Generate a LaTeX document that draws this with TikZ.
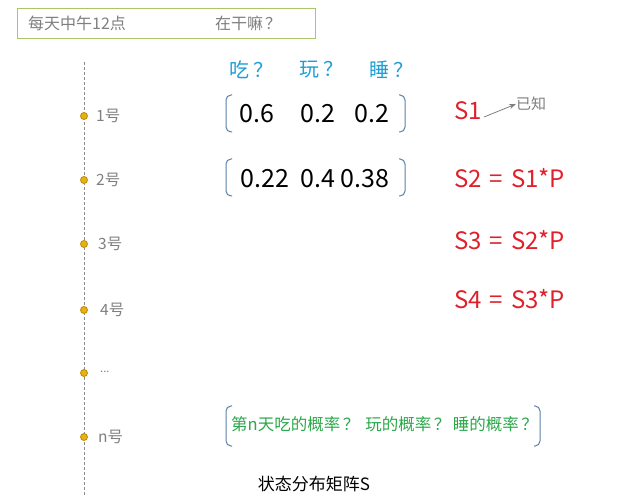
\documentclass[tikz,border=0pt]{standalone}
\usepackage{fontspec}
\setmainfont{Noto Sans CJK SC}
\usetikzlibrary{arrows.meta}
\definecolor{txtgray}{HTML}{7F7F7F}
\definecolor{qcyan}{HTML}{1E9FD6}
\definecolor{sred}{HTML}{E0202A}
\definecolor{pgreen}{HTML}{2BA84A}
\definecolor{brk}{HTML}{5B7FA6}
\definecolor{dotfill}{HTML}{E8B010}
\definecolor{dotline}{HTML}{C08A00}
\definecolor{boxgreen}{HTML}{A8C868}
\newcommand{\fs}[1]{\fontsize{#1}{#1}\selectfont}
\newcommand{\qm}{\hspace{2.5pt}？\hspace{2.5pt}}
\tikzset{
  daylabel/.style={anchor=west, inner sep=0pt, text=txtgray, font=\fs{15.5}},
  dayDot/.style={circle, fill=dotfill, draw=dotline, line width=0.8pt, minimum size=7pt, inner sep=0pt},
  qhead/.style={anchor=west, inner sep=0pt, text=qcyan, font=\fs{20}},
  num/.style={inner sep=0pt, text=black, font=\fs{25}},
  seq/.style={anchor=west, inner sep=0pt, text=sred, font=\fs{24}},
  paren/.style={draw=brk, line width=1pt, rounded corners=5pt},
}
\begin{document}
\begin{tikzpicture}[x=1pt,y=-1pt]
\useasboundingbox (0,0) rectangle (630,497);
% top box
\draw[boxgreen, line width=0.9pt] (17,8) rectangle (315,38);
\node[anchor=west, inner sep=0pt, text=txtgray, font=\fs{16}] (title) at (28,23) {每天中午12点};
\node[anchor=west, inner sep=0pt, text=txtgray, font=\fs{16}] (what) at (215,23) {在干嘛\hspace{2pt}？};
% timeline
\coordinate (ltop) at (84,62);
\coordinate (lbot) at (84,497);
\draw[txtgray!90, line width=1pt, dash pattern=on 3pt off 2pt] (ltop) -- (lbot);
\foreach \y/\n/\lx/\t in {116/d1/96/1号, 180/d2/96/2号, 244/d3/98/3号, 310/d4/100/4号, 437/dn/98/n号}{
  \node[dayDot] (\n) at (84,\y) {};
  \node[daylabel] (\n l) at (\lx,\y) {\t};
}
\node[dayDot] (d5) at (84,373) {};
\node[daylabel, font=\fs{11}] (d5l) at (100,372) {...};
% headers
\node[qhead] (eat) at (229,70) {吃\hspace{4pt}？};
\node[qhead] (play) at (299,70) {玩\hspace{4pt}？};
\node[qhead] (sleep) at (369,70) {睡\hspace{4pt}？};
% matrix row 1
\draw[paren] (232,95) -- (226,95) -- (226,132) -- (232,132);
\draw[paren] (399,95) -- (405,95) -- (405,132) -- (399,132);
\node[num] (a11) at (257,114) {0.6};
\node[num] (a12) at (318,114) {0.2};
\node[num] (a13) at (372,114) {0.2};
% matrix row 2
\draw[paren] (232,159) -- (226,159) -- (226,196) -- (232,196);
\draw[paren] (399,159) -- (405,159) -- (405,196) -- (399,196);
\node[num] (a21) at (265,179) {0.22};
\node[num] (a22) at (318,179) {0.4};
\node[num] (a23) at (365,179) {0.38};
% sequence
\node[seq] (s1) at (454,111) {S1};
\node[anchor=west, inner sep=0pt, text=txtgray, font=\fs{15}] (known) at (516,104) {已知};
\draw[-{Stealth[length=7pt,width=5pt]}, txtgray, line width=0.8pt] (s1.east) ++(2,6) -- (known.west);
\node[seq] (s2) at (454,178) {S2\hspace{8pt}=\hspace{8pt}S1*P};
\node[seq] (s3) at (454,240) {S3\hspace{8pt}=\hspace{8pt}S2*P};
\node[seq] (s4) at (454,299) {S4\hspace{8pt}=\hspace{8pt}S3*P};
% bottom
\draw[paren] (232,406) -- (226,406) -- (226,446) -- (232,446);
\draw[paren] (534,406) -- (540,406) -- (540,446) -- (534,446);
\node[anchor=west, inner sep=0pt, text=pgreen, font=\fs{16.5}] (prob) at (231,424) {第n天吃的概率\qm\ 玩的概率\qm 睡的概率\qm};
\node[inner sep=0pt, text=black, font=\fs{17}] (cap) at (314,484) {状态分布矩阵S};
\end{tikzpicture}
\end{document}
